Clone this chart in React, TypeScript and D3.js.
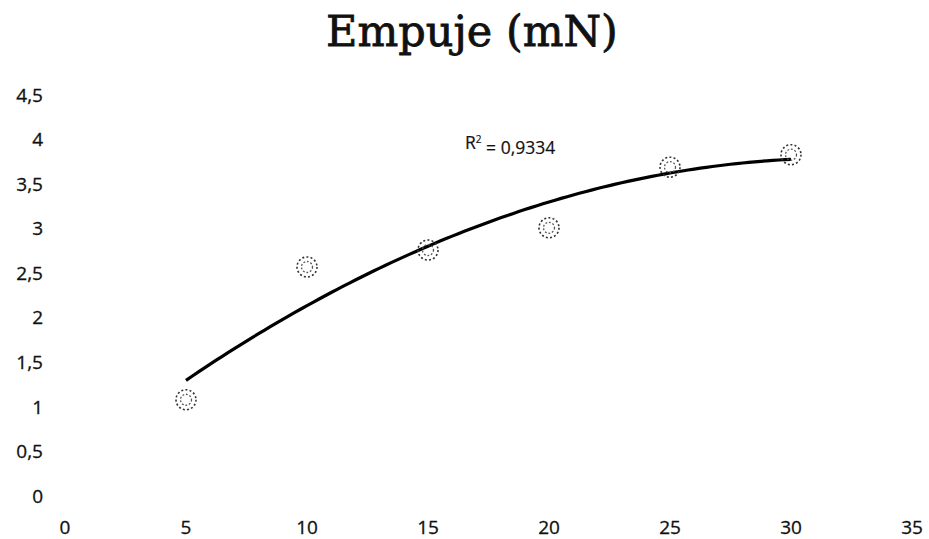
import React from "react";
import * as d3 from "d3";

const xValues = [5, 10, 15, 20, 25, 30];
const yValues = [1.08, 2.57, 2.76, 3.01, 3.69, 3.83];
const xTicks = [0, 5, 10, 15, 20, 25, 30, 35];
const yTicks = [0, 0.5, 1, 1.5, 2, 2.5, 3, 3.5, 4, 4.5];
const titleText = "Empuje (mN)";
const r2Text = "0,9334";

function polyFit2(xs: number[], ys: number[]) {
  // least squares y = a + b x + c x^2 (Excel polynomial trendline, order 2)
  const n = xs.length;
  const s = [0, 0, 0, 0, 0];
  const t = [0, 0, 0];
  for (let i = 0; i < n; i++) {
    const xv = xs[i];
    const yv = ys[i];
    for (let k = 0; k < 5; k++) s[k] += Math.pow(xv, k);
    for (let k = 0; k < 3; k++) t[k] += yv * Math.pow(xv, k);
  }
  const M = [
    [s[0], s[1], s[2], t[0]],
    [s[1], s[2], s[3], t[1]],
    [s[2], s[3], s[4], t[2]],
  ];
  for (let i = 0; i < 3; i++) {
    let p = i;
    for (let r = i + 1; r < 3; r++) if (Math.abs(M[r][i]) > Math.abs(M[p][i])) p = r;
    [M[i], M[p]] = [M[p], M[i]];
    for (let r = 0; r < 3; r++) {
      if (r === i) continue;
      const f = M[r][i] / M[i][i];
      for (let c = i; c < 4; c++) M[r][c] -= f * M[i][c];
    }
  }
  return [M[0][3] / M[0][0], M[1][3] / M[1][1], M[2][3] / M[2][2]];
}

export default function App() {
  const W = 929;
  const H = 539;
  const x = d3.scaleLinear().domain([0, 35]).range([65, 912]);
  const y = d3.scaleLinear().domain([0, 4.5]).range([496, 95]);
  const [a, b, c] = polyFit2(xValues, yValues);
  const trendX = d3.range(0, 101).map((i) => 5 + (25 * i) / 100);
  const line = d3
    .line<number>()
    .x((d) => x(d))
    .y((d) => y(a + b * d + c * d * d))
    .curve(d3.curveLinear);
  const tickFont = "'Open Sans', 'Liberation Sans', sans-serif";
  return (
    <svg
      width={W}
      height={H}
      style={{ position: "absolute", left: 0, top: 0, background: "#fff" }}
    >
      <rect x={0} y={0} width={W} height={H} fill="#fff" />
      <text
        x={472}
        y={46}
        textAnchor="middle"
        fontFamily="'DejaVu Serif', serif"
        fontSize={43}
        fill="#111"
        stroke="#111"
        strokeWidth={0.8}
      >
        {titleText}
      </text>
      {yTicks.map((t) => (
        <text
          key={"y" + t}
          x={43}
          y={y(t)}
          dy="0.35em"
          textAnchor="end"
          fontFamily={tickFont}
          fontSize={19}
          fill="#111"
          stroke="#111"
          strokeWidth={0.3}
        >
          {String(t).replace(".", ",")}
        </text>
      ))}
      {xTicks.map((t) => (
        <text
          key={"x" + t}
          x={x(t)}
          y={527}
          dy="0.35em"
          textAnchor="middle"
          fontFamily={tickFont}
          fontSize={19}
          fill="#111"
          stroke="#111"
          strokeWidth={0.3}
        >
          {String(t)}
        </text>
      ))}
      <path
        d={line(trendX) || ""}
        fill="none"
        stroke="#000"
        strokeWidth={3.2}
        strokeLinecap="butt"
      />
      {xValues.map((xv, i) => (
        <g key={"p" + i} transform={`translate(${x(xv)},${y(yValues[i])})`}>
          <circle r={10} fill="none" stroke="#333" strokeWidth={1.6} strokeDasharray="2 2.2" />
          <circle r={5.5} fill="none" stroke="#555" strokeWidth={1.3} strokeDasharray="1.8 1.8" />
        </g>
      ))}
      <text
        x={465}
        y={143}
        dy="0.35em"
        fontFamily={tickFont}
        fontSize={17.5}
        fill="#111"
        stroke="#111"
        strokeWidth={0.2}
      >
        R
        <tspan fontSize={10} dy="-0.6em">2</tspan>
        <tspan dy="0.6em" fontSize={17.5}>{" = " + r2Text}</tspan>
      </text>
    </svg>
  );
}
